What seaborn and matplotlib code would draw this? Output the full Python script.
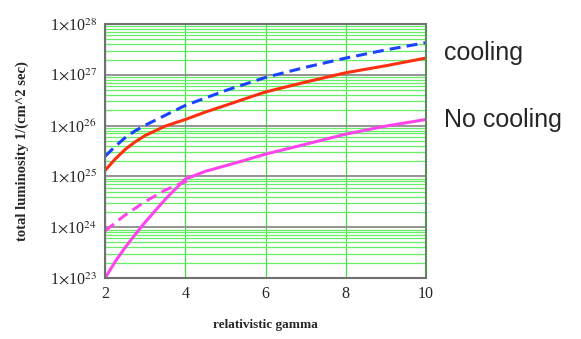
import numpy as np
import pandas as pd
import seaborn as sns
import matplotlib.pyplot as plt
from matplotlib.ticker import LogLocator, FixedLocator

gamma = [2, 2.25, 2.5, 2.75, 3, 3.5, 4, 4.5, 5, 5.5, 6, 7, 8, 9, 10]
cool_dashed = [2.5e25, 3.9e25, 5.8e25, 7.9e25, 1.02e26, 1.6e26, 2.5e26, 3.5e26, 4.9e26,
               6.6e26, 8.9e26, 1.41e27, 2.14e27, 3.1e27, 4.3e27]
cool_solid = [1.32e25, 2.2e25, 3.4e25, 4.8e25, 6.4e25, 9.8e25, 1.32e26, 1.85e26, 2.5e26,
              3.4e26, 4.6e26, 7.2e26, 1.1e27, 1.51e27, 2.14e27]
nocool_solid = [1.0e23, 2.1e23, 4.0e23, 7.2e23, 1.26e24, 3.55e24, 8.9e24, 1.26e25, 1.62e25,
                2.1e25, 2.75e25, 4.3e25, 6.8e25, 9.8e25, 1.32e26]
gamma_short = [2, 2.5, 3, 3.5, 4, 4.2]
nocool_dashed = [8.5e23, 1.74e24, 3.2e24, 5.4e24, 7.9e24, 1.02e25]

sns.set_style("white")
plt.rcParams['font.family'] = ['Liberation Serif', 'DejaVu Serif']
plt.rcParams['mathtext.fontset'] = 'stix'

fig = plt.figure(figsize=(5.81, 3.39), dpi=100)
ax = fig.add_axes([0.181, 0.18, 0.552, 0.749])

ax.set_yscale('log')
ax.set_xlim(2, 10)
ax.set_ylim(1e23, 1e28)

# grid
ax.yaxis.set_major_locator(LogLocator(base=10, numticks=10))
ax.yaxis.set_minor_locator(LogLocator(base=10, subs=np.arange(2, 10), numticks=20))
ax.xaxis.set_major_locator(FixedLocator([2, 4, 6, 8, 10]))
ax.grid(True, which='minor', axis='y', color='#66ee66', lw=0.9)
ax.grid(True, which='major', axis='y', color='#8c8c8c', lw=1.3)
ax.grid(True, which='major', axis='x', color='#44dd44', lw=0.9)
ax.set_axisbelow(True)

dash = (0, (3.6, 2))
sns.lineplot(x=gamma, y=cool_dashed, ax=ax, color='#1a44ff', lw=2.2, linestyle=dash)
sns.lineplot(x=gamma, y=cool_solid, ax=ax, color='#ff3010', lw=2.2)
sns.lineplot(x=gamma, y=nocool_solid, ax=ax, color='#ff44ee', lw=2.2)
sns.lineplot(x=gamma_short, y=nocool_dashed, ax=ax, color='#ff44ee', lw=2.2, linestyle=dash)

exps = [23, 24, 25, 26, 27, 28]
ax.set_yticks([10.0 ** e for e in exps])
ax.set_yticklabels([r'1$\times$10$^{%d}$' % e for e in exps], fontsize=11.5)
ax.set_xticklabels(['2', '4', '6', '8', '10'], fontsize=11.5)
ax.tick_params(axis='both', which='both', length=0, pad=6)

for s in ['left', 'top', 'bottom']:
    ax.spines[s].set_color('#707070')
    ax.spines[s].set_linewidth(1.5)
ax.spines['right'].set_color('#5a8a5a')
ax.spines['right'].set_linewidth(1.5)

ax.set_xlabel('relativistic gamma', fontsize=9.5, fontweight='bold', labelpad=12)
ax.set_ylabel('total luminosity 1/(cm^2 sec)', fontsize=10.5, fontweight='bold', labelpad=15)

fig.text(0.765, 0.845, 'cooling', fontsize=18, family='Liberation Sans', va='center')
fig.text(0.765, 0.645, 'No cooling', fontsize=18, family='Liberation Sans', va='center')

fig.savefig('out.png', dpi=100)
